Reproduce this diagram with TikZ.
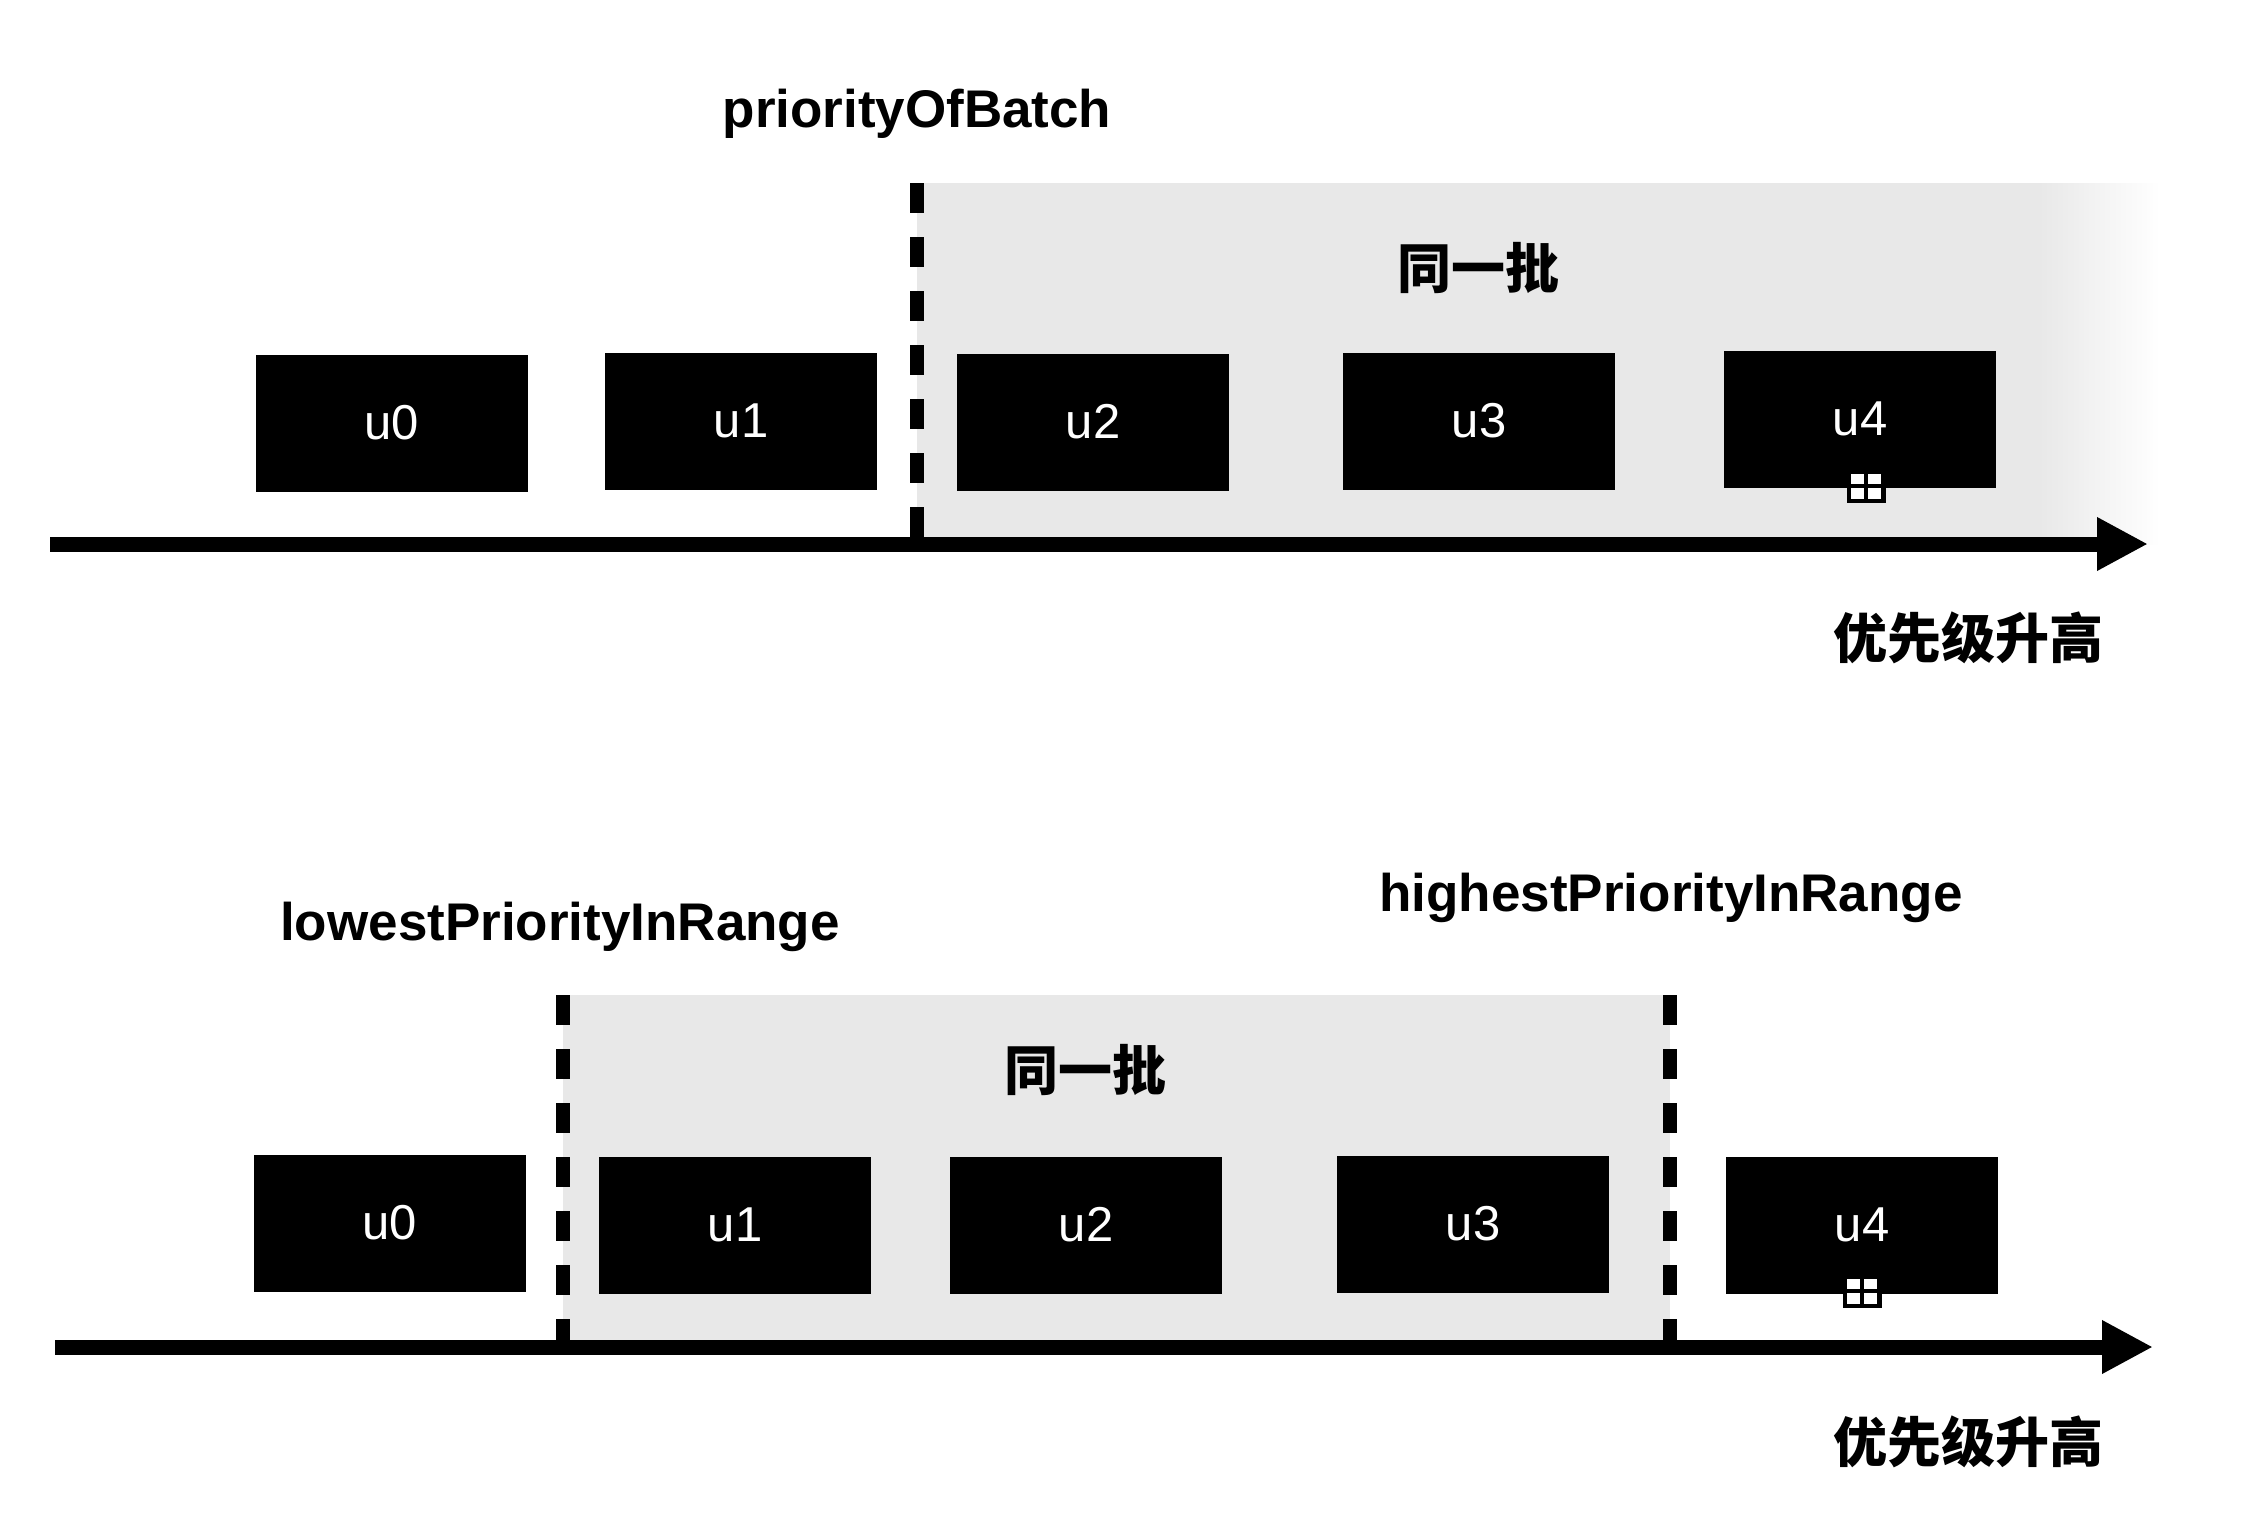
\documentclass[tikz,border=0pt]{standalone}
\usepackage{fontspec}
\setmainfont{Liberation Sans}
\newfontfamily\cjk{Noto Sans CJK SC}
\usetikzlibrary{arrows.meta}
\tikzset{
  ubox/.style={fill=black, text=white, minimum width=272pt, minimum height=137pt, inner sep=0pt,
    font=\fontsize{49}{54}\selectfont},
  lab/.style={font=\fontsize{53}{58}\selectfont\bfseries, inner sep=0pt},
  cjklab/.style={font=\fontsize{54}{60}\selectfont\cjk\bfseries, inner sep=0pt},
  axis/.style={line width=15pt, -{Triangle[length=51pt,width=50pt]}},
  bound/.style={line width=14pt, dash pattern=on 30pt off 24pt},
  shade region/.style={fill=black!9},
  handle/.style={fill=white, draw=black, line width=3pt, minimum width=33pt, minimum height=28pt, inner sep=0pt},
}
\begin{document}
\begin{tikzpicture}[x=1pt,y=-1pt]
\useasboundingbox[fill=white] (0,0) rectangle (2262,1536);

% ---------- top panel ----------
\fill[shade region] (917,183) rectangle (2040,544);
\shade[left color=black!9, right color=white] (2039,183) rectangle (2160,544);

\coordinate (a1s) at (50,544);
\coordinate (a1e) at (2148,544);
\coordinate (d1t) at (917,183);
\coordinate (d1b) at (917,544);
\draw[bound] (d1t) -- (d1b);

\node[lab, anchor=base] (pob) at (917,128) {priorityOfBatch};
\node[cjklab] (same1) at (1478,268) {同一批};

\node[ubox] (t0) at (392,423) {u0};
\node[ubox] (t1) at (741,421) {u1};
\node[ubox] (t2) at (1093,422) {u2};
\node[ubox] (t3) at (1479,421) {u3};
\node[ubox] (t4) at (1860,419) {u4};
\node[handle] (h1) at (1866,486) {};
\draw[line width=4pt] (h1.north) -- (h1.south) (h1.west) -- (h1.east);
\draw[black, line width=3pt] (h1.south west) rectangle (h1.north east);

\draw[axis] (a1s) -- (a1e);
\node[cjklab] (pr1) at (1968,638) {优先级升高};

% ---------- bottom panel ----------
\fill[shade region] (563,995) rectangle (1670,1347);
\coordinate (a2s) at (55,1347);
\coordinate (a2e) at (2153,1347);
\coordinate (d2t) at (563,995);
\coordinate (d2b) at (563,1347);
\coordinate (d3t) at (1670,995);
\coordinate (d3b) at (1670,1347);
\draw[bound] (d2t) -- (d2b);
\draw[bound] (d3t) -- (d3b);

\node[lab, anchor=base] (low) at (560,940) {lowestPriorityInRange};
\node[lab, anchor=base] (high) at (1671,911) {highestPriorityInRange};
\node[cjklab] (same2) at (1085,1070) {同一批};

\node[ubox] (b0) at (390,1223) {u0};
\node[ubox] (b1) at (735,1225) {u1};
\node[ubox] (b2) at (1086,1225) {u2};
\node[ubox] (b3) at (1473,1224) {u3};
\node[ubox] (b4) at (1862,1225) {u4};
\node[handle] (h2) at (1862,1291) {};
\draw[line width=4pt] (h2.north) -- (h2.south) (h2.west) -- (h2.east);
\draw[black, line width=3pt] (h2.south west) rectangle (h2.north east);

\draw[axis] (a2s) -- (a2e);
\node[cjklab] (pr2) at (1968,1442) {优先级升高};
\end{tikzpicture}
\end{document}
